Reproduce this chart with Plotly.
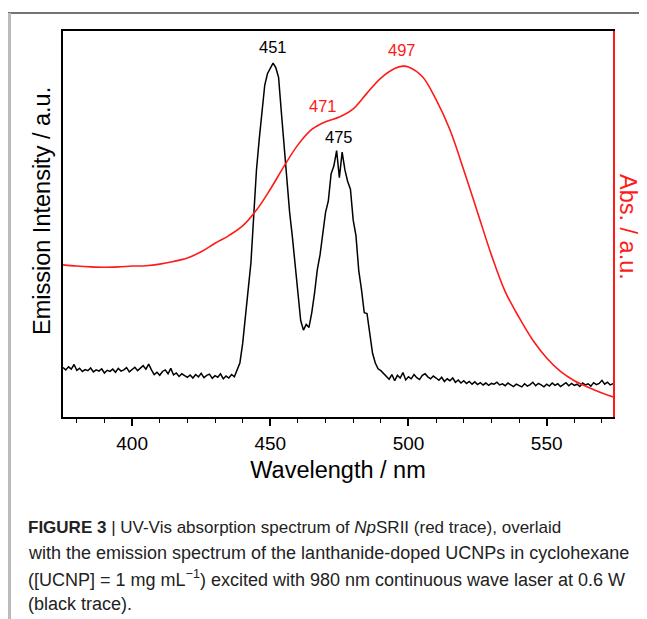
import plotly.graph_objects as go

# Emission spectrum of the UCNPs (black trace), 1 nm steps from 375 to 574 nm
em_wavelength = list(range(375, 575))
em_intensity = [
    128, 122, 130, 124, 136, 121, 126, 118, 123, 120,   # 375-384
    127, 117, 122, 119, 125, 114, 121, 118, 124, 116,   # 385-394
    126, 119, 122, 128, 117, 123, 129, 120, 126, 133,   # 395-404
    124, 137, 122, 110, 116, 108, 118, 122, 112, 126,   # 405-414
    109, 114, 105, 112, 107, 103, 109, 101, 110, 104,   # 415-424
    113, 102, 108, 111, 100, 107, 103, 112, 99, 106,    # 425-434
    101, 110, 104, 120, 140, 190, 260, 330, 400, 520,   # 435-444
    640, 720, 800, 860, 890, 905, 917, 905, 880, 790,   # 445-454
    700, 610, 530, 466, 390, 310, 250, 225, 240, 232,   # 455-464
    270, 320, 381, 420, 470, 530, 560, 630, 650, 690,   # 465-474
    620, 686, 640, 610, 590, 510, 470, 380, 330, 270,   # 475-484
    268, 210, 165, 140, 125, 120, 112, 105, 98, 110,    # 485-494
    94, 108, 101, 115, 96, 104, 99, 110, 102, 97,       # 495-504
    108, 112, 104, 99, 106, 101, 95, 103, 92, 99,       # 505-514
    94, 101, 90, 96, 88, 94, 87, 92, 85, 91,            # 515-524
    84, 89, 83, 88, 82, 87, 85, 90, 83, 86,             # 525-534
    81, 88, 84, 79, 85, 82, 78, 86, 80, 84,             # 535-544
    90, 81, 87, 83, 78, 85, 80, 88, 82, 86,             # 545-554
    79, 84, 89, 81, 87, 82, 85, 79, 88, 83,             # 555-564
    86, 80, 89, 84, 87, 95, 85, 90, 83, 86,             # 565-574
]

# Absorption spectrum of NpSRII (red trace)
abs_wavelength = [375, 380, 385, 390, 395, 400, 405, 410, 415, 420, 425, 430,
                  435, 440, 445, 450, 455, 460, 465, 470, 475, 480, 485, 490,
                  495, 498, 500, 505, 510, 515, 520, 525, 530, 535, 540, 545,
                  550, 555, 560, 565, 570, 574]
abs_value = [394, 391, 389, 388, 389, 391, 392, 396, 403, 412, 428, 450,
             470, 495, 536, 590, 650, 705, 745, 765, 777, 798, 839, 878,
             903, 909, 907, 882, 822, 744, 640, 530, 420, 325, 258, 199,
             153, 118, 94, 77, 62, 52]

# Peak labels: (wavelength, height, text, colour, axis)
peak_labels = [
    (451, 958, "451", "black", "y"),
    (475, 725, "475", "black", "y"),
    (469, 806, "471", "#ff1a1a", "y2"),
    (497.7, 951, "497", "#ff1a1a", "y2"),
]

caption_lines = [
    "<b>FIGURE 3</b> | UV-Vis absorption spectrum of <i>Np</i>SRII (red trace), overlaid",
    "with the emission spectrum of the lanthanide-doped UCNPs in cyclohexane",
    "([UCNP] = 1 mg mL<sup>−1</sup>) excited with 980 nm continuous wave laser at 0.6 W",
    "(black trace).",
]
caption_sizes = [17, 18, 18, 18]

RED = "#ff1a1a"
FONT = "Liberation Sans, Arial, sans-serif"

# the page puts the figure 8px in from the top-left corner, so the figure is
# 8px smaller and every pixel position below is the reference position minus 8
OFF = 8
W, H = 647 - OFF, 619 - OFF
PL, PT, PR, PB = 63 - OFF, 31 - OFF, 613 - OFF, 417 - OFF


def px_x(x):
    # page x pixel -> paper coordinate
    return (x - OFF - PL) / (PR - PL)


def px_y(y):
    # page y pixel -> paper coordinate
    return (PB - (y - OFF)) / (PB - PT)


fig = go.Figure()
fig.add_trace(go.Scatter(x=em_wavelength, y=em_intensity, mode="lines",
                         line=dict(color="black", width=1.5), yaxis="y"))
fig.add_trace(go.Scatter(x=abs_wavelength, y=abs_value, mode="lines",
                         line=dict(color=RED, width=1.6, shape="spline"),
                         yaxis="y2"))

for wl, h, txt, col, ax in peak_labels:
    fig.add_annotation(x=wl, y=h, text=txt, showarrow=False, xref="x", yref=ax,
                       font=dict(size=16.5, color=col))

# y titles as annotations: the left one sits a bit above the centre of the axis,
# the right one reads top to bottom
fig.add_annotation(x=px_x(42), y=px_y(211), xref="paper", yref="paper",
                   xanchor="center", yanchor="middle",
                   text="Emission Intensity / a.u.", showarrow=False, textangle=-90,
                   font=dict(size=23.5, color="black"))
fig.add_annotation(x=px_x(628), y=px_y(227), xref="paper", yref="paper",
                   xanchor="center", yanchor="middle",
                   text="Abs. / a.u.", showarrow=False, textangle=90,
                   font=dict(size=23.5, color=RED))

for i, line in enumerate(caption_lines):
    y_px = 527 + i * 25.7
    fig.add_annotation(x=px_x(26), y=px_y(y_px), xref="paper", yref="paper",
                       text=line, showarrow=False, xanchor="left", yanchor="middle",
                       font=dict(size=caption_sizes[i], color="#222222"))

# page decoration: thin rule on top and grey bar on the left
fig.add_shape(type="line", xref="paper", yref="paper", x0=px_x(8), x1=px_x(660),
              y0=px_y(13), y1=px_y(13), line=dict(color="#444444", width=1.5))
fig.add_shape(type="line", xref="paper", yref="paper", x0=px_x(9.5), x1=px_x(9.5),
              y0=px_y(13), y1=px_y(640), line=dict(color="#bbbbbb", width=3))

fig.update_layout(
    width=W, height=H,
    margin=dict(l=PL, r=W - PR, t=PT, b=H - PB),
    paper_bgcolor="white", plot_bgcolor="white",
    showlegend=False,
    font=dict(family=FONT, color="black"),
    xaxis=dict(range=[375, 574], tickvals=[400, 450, 500, 550], ticks="outside",
               ticklen=7, tickwidth=1.5, tickcolor="black", ticklabelstandoff=1,
               minor=dict(tickvals=list(range(380, 575, 10)), ticks="outside", ticklen=4,
                          tickwidth=1.2, tickcolor="black"),
               showline=True, linecolor="black", linewidth=2, mirror=True,
               showgrid=False, zeroline=False, automargin=False,
               tickfont=dict(size=19),
               title=dict(text="Wavelength / nm", font=dict(size=23.5), standoff=9)),
    yaxis=dict(range=[0, 1000], showticklabels=False, ticks="", showgrid=False,
               zeroline=False, showline=True, linecolor="black", linewidth=2,
               automargin=False),
    yaxis2=dict(range=[0, 1000], overlaying="y", side="right", showticklabels=False,
                ticks="", showgrid=False, zeroline=False, showline=True,
                linecolor=RED, linewidth=2, automargin=False),
)

fig.write_html("out.html")
